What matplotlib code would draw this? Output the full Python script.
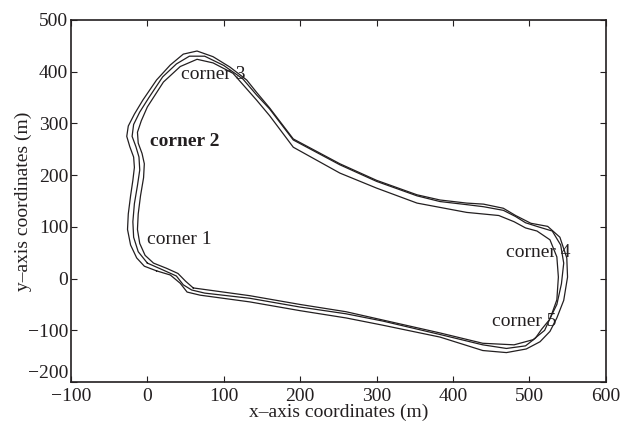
import matplotlib
matplotlib.use("Agg")
import matplotlib.pyplot as plt

# Outer track boundary (m)
outer_x = [12, 30, 43, 52, 69, 134, 200, 260, 308, 383, 439, 470, 496, 514, 527, 536, 545, 550,
           549, 540, 524, 502, 482, 466, 440, 418, 383, 353, 300, 252, 191, 160, 143, 130, 108, 86,
           65, 47, 30, 12, -6, -17, -25, -27, -23, -18, -17, -19, -22, -25, -26, -22, -14, -4, 12]
outer_y = [15, 7, -9, -26, -32, -45, -62, -76, -90, -113, -139, -143, -136, -122, -102, -76, -42, 3,
           40, 80, 101, 107, 122, 136, 144, 146, 152, 162, 190, 222, 270, 330, 360, 384, 409, 429,
           440, 434, 413, 384, 345, 318, 295, 275, 255, 235, 215, 190, 160, 125, 95, 65, 40, 24, 15]

# Inner track boundary (m)
inner_x = [60, 134, 200, 260, 308, 383, 439, 480, 505, 520, 528, 536, 538, 536, 527, 510, 495,
           480, 460, 418, 353, 300, 252, 191, 160, 143, 112, 86, 65, 43, 21, 0, -8, -13, -12, -7,
           -4, -5, -9, -12, -13, -10, -3, 8, 25, 40, 50, 60]
inner_y = [-18, -33, -50, -64, -80, -105, -125, -128, -118, -100, -74, -41, 3, 42, 75, 92, 98,
           110, 122, 128, 146, 175, 204, 254, 315, 345, 397, 417, 424, 410, 380, 332, 305, 283, 262,
           242, 222, 195, 160, 125, 95, 68, 45, 30, 20, 10, -5, -18]

# Driven (racing) line (m)
race_x = [0, 20, 38, 47, 58, 75, 134, 200, 260, 308, 383, 439, 470, 495, 508, 516, 526, 536,
          542, 545, 541, 530, 512, 495, 482, 466, 440, 418, 383, 353, 300, 252, 191, 160, 143, 125,
          100, 75, 55, 38, 20, 2, -10, -18, -20, -15, -11, -10, -13, -17, -19, -18, -12, 0]
race_y = [30, 17, 5, -12, -22, -28, -38, -55, -68, -82, -108, -128, -135, -130, -115, -98, -80,
          -50, -10, 30, 65, 92, 100, 108, 120, 132, 139, 143, 149, 160, 188, 220, 268, 328, 355, 386,
          412, 430, 430, 415, 390, 350, 322, 298, 275, 255, 235, 210, 180, 145, 110, 80, 52, 30]

labels = ["corner 1", "corner 2", "corner 3", "corner 4", "corner 5"]
label_x = [0, 3, 44, 469, 451]
label_y = [75, 266, 394, 51, -83]

x_ticks = [-100, 0, 100, 200, 300, 400, 500, 600]
y_ticks = [-200, -100, 0, 100, 200, 300, 400, 500]

ink = "#231f20"
plt.rcParams['font.family'] = ['Liberation Serif', 'DejaVu Serif']

fig = plt.figure(figsize=(6.2, 4.25), dpi=100)
ax = fig.add_axes([0.1145, 0.101, 0.8625, 0.852])

for xs, ys in [(outer_x, outer_y), (inner_x, inner_y), (race_x, race_y)]:
    ax.plot(xs, ys, color=ink, lw=0.9)

for t, tx, ty in zip(labels, label_x, label_y):
    ax.text(tx, ty, t, ha='left', va='center', fontsize=14, color=ink,
            fontweight='bold' if t == "corner 2" else 'normal')

ax.set_xlim(-100, 600)
ax.set_ylim(-200, 500)
ax.set_xticks(x_ticks)
ax.set_yticks(y_ticks)
ax.set_xticklabels([str(v).replace('-', '\u2212') for v in x_ticks])
ax.set_yticklabels([str(v).replace('-', '\u2212') for v in y_ticks])
ax.tick_params(direction='in', length=4, width=0.8, top=True, right=True,
               labelsize=14, colors=ink)
ax.tick_params(axis='x', pad=4)
ax.tick_params(axis='y', pad=2)
ax.yaxis.get_major_ticks()[0].label1.set_verticalalignment('bottom')
for s in ax.spines.values():
    s.set_linewidth(1.2)
    s.set_color(ink)
ax.set_xlabel("x\u2013axis coordinates (m)", fontsize=14, color=ink, labelpad=-1)
ax.set_ylabel("y\u2013axis coordinates (m)", fontsize=14, color=ink)
ax.yaxis.set_label_coords(-0.072, 0.5)

fig.savefig("out.png", dpi=100)
